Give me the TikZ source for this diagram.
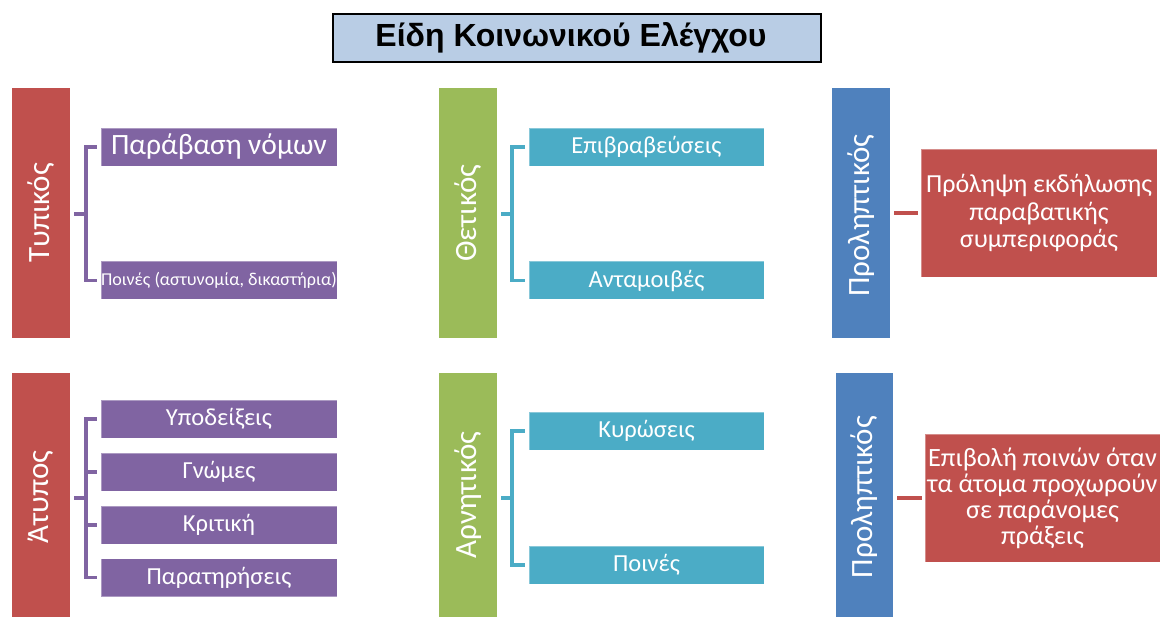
\documentclass[tikz,border=0pt]{standalone}
\usepackage{fontspec}
\setmainfont{Carlito}
\newfontfamily\titlefont{Liberation Sans}
\definecolor{cred}{HTML}{C0504D}
\definecolor{cpurple}{HTML}{8064A2}
\definecolor{cgreen}{HTML}{9BBB59}
\definecolor{caqua}{HTML}{4BACC6}
\definecolor{cblue}{HTML}{4F81BD}
\definecolor{ctitle}{HTML}{B9CDE5}
\begin{document}
\begin{tikzpicture}[x=1pt,y=-1pt,
  bar/.style={rectangle,inner sep=0pt,minimum width=58pt,minimum height=250pt},
  bartext/.style={rotate=90,text=white,inner sep=0pt,font=\fontsize{31}{35}\selectfont},
  item/.style={rectangle,inner sep=0pt,minimum width=236pt,minimum height=38pt,text=white,font=\fontsize{24.5}{28}\selectfont,draw=white,draw opacity=0.35,line width=0.6pt},
  bigbox/.style={rectangle,inner sep=0pt,minimum width=236pt,minimum height=128pt,text=white,fill=cred,align=center,draw=white,draw opacity=0.35,line width=0.6pt},
  conn/.style={line width=3.4pt}
]
\useasboundingbox (0,0) rectangle (1161,617);
% title
\node[rectangle,draw=black,line width=1.8pt,fill=ctitle,minimum width=488pt,minimum height=48pt,inner sep=0pt] (title) at (577,38) {};
\node[inner sep=0pt,font=\titlefont\bfseries\fontsize{32}{36}\selectfont] (titletext) at ([xshift=-6pt]title.center) {Είδη Κοινωνικού Ελέγχου};

% ---------- top left
\node[bar,fill=cred] (T1) at (41,213) {};
\node[bartext] at (T1) {Τυπικός};
\node[item,fill=cpurple,font=\fontsize{29.5}{32}\selectfont] (P1) at (219,147) {Παράβαση νόμων};
\node[item,fill=cpurple,font=\fontsize{18.1}{20}\selectfont] (P2) at (219,280.5) {Ποινές (αστυνομία, δικαστήρια)};
\coordinate (s1) at (86,214);
\draw[conn,cpurple] ([xshift=4pt]T1.east |- s1) -- (s1);
\draw[conn,cpurple] ([xshift=-4pt]P1.west) -| (s1) |- ([xshift=-4pt]P2.west);

% ---------- bottom left
\node[bar,fill=cred,minimum height=244pt] (T2) at (41,495) {};
\node[bartext] at (41,497) {Άτυπος};
\node[item,fill=cpurple] (A1) at (219,419) {Υποδείξεις};
\node[item,fill=cpurple] (A2) at (219,472) {Γνώμες};
\node[item,fill=cpurple] (A3) at (219,525) {Κριτική};
\node[item,fill=cpurple] (A4) at (219,577.5) {Παρατηρήσεις};
\coordinate (s2) at (86,498);
\draw[conn,cpurple] ([xshift=4pt]T2.east |- s2) -- (s2);
\draw[conn,cpurple] ([xshift=-4pt]A1.west) -| (s2) |- ([xshift=-4pt]A4.west);
\draw[conn,cpurple] ([xshift=-4pt]A2.west) -- (A2.west -| s2);
\draw[conn,cpurple] ([xshift=-4pt]A3.west) -- (A3.west -| s2);

% ---------- top middle
\node[bar,fill=cgreen] (G1) at (468,213) {};
\node[bartext] at (G1) {Θετικός};
\node[item,fill=caqua,minimum width=235pt] (E1) at (646.5,147) {Επιβραβεύσεις};
\node[item,fill=caqua,minimum width=235pt] (E2) at (646.5,280.5) {Ανταμοιβές};
\coordinate (s3) at (512,214);
\draw[conn,caqua] ([xshift=4pt]G1.east |- s3) -- (s3);
\draw[conn,caqua] ([xshift=-4pt]E1.west) -| (s3) |- ([xshift=-4pt]E2.west);

% ---------- bottom middle
\node[bar,fill=cgreen,minimum height=244pt] (G2) at (468,495) {};
\node[bartext] at (468,495) {Αρνητικός};
\node[item,fill=caqua,minimum width=235pt] (K1) at (646.5,431) {Κυρώσεις};
\node[item,fill=caqua,minimum width=235pt] (K2) at (646.5,565) {Ποινές};
\coordinate (s4) at (512,498);
\draw[conn,caqua] ([xshift=4pt]G2.east |- s4) -- (s4);
\draw[conn,caqua] ([xshift=-4pt]K1.west) -| (s4) |- ([xshift=-4pt]K2.west);

% ---------- top right
\node[bar,fill=cblue] (B1) at (861,213) {};
\node[bartext] at (861,215.5) {Προληπτικός};
\node[bigbox,font=\fontsize{26}{27.5}\selectfont] (R1) at (1039,213) {Πρόληψη εκδήλωσης\\παραβατικής\\συμπεριφοράς};
\draw[conn,cred] ([xshift=4pt]B1.east |- R1.west) -- ([xshift=-3pt]R1.west);

% ---------- bottom right
\node[bar,fill=cblue,minimum width=57pt,minimum height=244pt] (B2) at (864.5,495) {};
\node[bartext] at (864.5,497) {Προληπτικός};
\node[bigbox,minimum width=235pt,font=\fontsize{26.4}{26}\selectfont] (R2) at (1042.5,498) {Επιβολή ποινών όταν\\τα άτομα προχωρούν\\σε παράνομες\\πράξεις};
\draw[conn,cred] ([xshift=4pt]B2.east |- R2.west) -- ([xshift=-3pt]R2.west);
\end{tikzpicture}
\end{document}
